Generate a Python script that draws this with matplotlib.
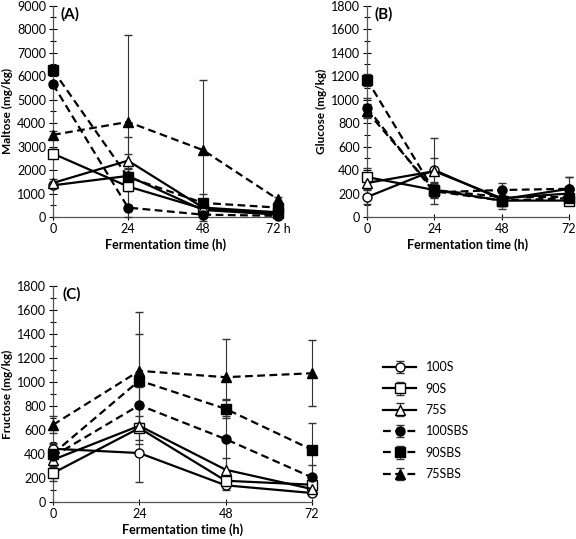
import matplotlib
matplotlib.use("Agg")
import matplotlib.pyplot as plt
from matplotlib.ticker import MultipleLocator
import numpy as np

plt.rcParams['font.family'] = ['Lato', 'DejaVu Sans']

time = [0, 24, 48, 72]
series = ["100S", "90S", "75S", "100SBS", "90SBS", "75SBS"]

# Maltose (A)
maltose = {
    "100S":   [1350, 1750, 300, 100],
    "90S":    [2700, 1300, 350, 150],
    "75S":    [1450, 2400, 400, 200],
    "100SBS": [5650, 400, 100, 50],
    "90SBS":  [6250, 1700, 600, 400],
    "75SBS":  [3500, 4050, 2850, 750],
}
maltose_sd = {
    "100S":   [100, 300, 100, 50],
    "90S":    [200, 200, 100, 50],
    "75S":    [150, 300, 200, 100],
    "100SBS": [100, 100, 50, 50],
    "90SBS":  [100, 1700, 400, 100],
    "75SBS":  [150, 3700, 3000, 100],
}

# Glucose (B)
glucose = {
    "100S":   [170, 400, 150, 240],
    "90S":    [340, 230, 140, 140],
    "75S":    [290, 390, 160, 200],
    "100SBS": [930, 210, 230, 240],
    "90SBS":  [1170, 220, 140, 160],
    "75SBS":  [900, 230, 170, 170],
}
glucose_sd = {
    "100S":   [60, 100, 60, 100],
    "90S":    [80, 60, 40, 30],
    "75S":    [50, 280, 60, 40],
    "100SBS": [80, 40, 60, 105],
    "90SBS":  [50, 60, 70, 30],
    "75SBS":  [60, 40, 40, 30],
}

# Fructose (C)
fructose = {
    "100S":   [444, 408, 139, 75],
    "90S":    [241, 616, 177, 144],
    "75S":    [352, 635, 269, 108],
    "100SBS": [380, 807, 524, 205],
    "90SBS":  [402, 1012, 776, 435],
    "75SBS":  [643, 1093, 1040, 1073],
}
fructose_sd = {
    "100S":   [50, 240, 40, 20],
    "90S":    [70, 100, 60, 30],
    "75S":    [60, 150, 100, 30],
    "100SBS": [80, 150, 330, 100],
    "90SBS":  [80, 385, 80, 220],
    "75SBS":  [70, 490, 320, 275],
}

styles = {
    "100S":   dict(marker='o', mfc='white', ls='-'),
    "90S":    dict(marker='s', mfc='white', ls='-'),
    "75S":    dict(marker='^', mfc='white', ls='-'),
    "100SBS": dict(marker='o', mfc='black', ls=(0, (3.5, 2))),
    "90SBS":  dict(marker='s', mfc='black', ls=(0, (3.5, 2))),
    "75SBS":  dict(marker='^', mfc='black', ls=(0, (3.5, 2))),
}

fig = plt.figure(figsize=(5.76, 5.39), dpi=100)
W, H = 576, 539

def make_ax(x0, x1, ytop, ybot):
    return fig.add_axes([x0 / W, 1 - ybot / H, (x1 - x0) / W, (ybot - ytop) / H])

axA = make_ax(53, 278, 5.7, 217)
axB = make_ax(367, 569, 5.7, 217)
axC = make_ax(53, 312, 286, 502)

def draw(ax, data, sd, ymax, major, minor, ylabel, letter, xticklabels):
    for s in series:
        st = styles[s]
        ax.errorbar(time, data[s], yerr=sd[s], color='black', lw=1.6,
                    ls=st['ls'], marker=st['marker'], mfc=st['mfc'], mec='black',
                    mew=1.0, ms=6.5, ecolor='#333333', elinewidth=0.8, capsize=3,
                    capthick=0.8, label=s, clip_on=False, zorder=3)
    ax.set_xlim(0, 72)
    ax.set_ylim(0, ymax)
    ax.set_xticks(time)
    ax.set_xticklabels(xticklabels, fontsize=9)
    ax.yaxis.set_major_locator(MultipleLocator(major))
    ax.yaxis.set_minor_locator(MultipleLocator(minor))
    ax.tick_params(axis='y', which='major', direction='inout', length=6, width=0.8,
                   labelsize=9, pad=2)
    ax.tick_params(axis='y', which='minor', direction='inout', length=5, width=0.8)
    ax.tick_params(axis='x', which='major', direction='inout', length=5, width=0.8,
                   labelsize=9, pad=1.5)
    for sp in ['top', 'right']:
        ax.spines[sp].set_visible(False)
    for sp in ['left', 'bottom']:
        ax.spines[sp].set_color('#555555')
        ax.spines[sp].set_linewidth(0.9)
    ax.set_ylabel(ylabel, fontsize=8.5, fontweight='bold', labelpad=3)
    ax.set_xlabel("Fermentation time (h)", fontsize=9, fontweight='bold', labelpad=3)
    ax.text(0.035, 0.995, letter, transform=ax.transAxes, fontsize=11,
            fontweight='bold', va='top', ha='left')

draw(axA, maltose, maltose_sd, 9000, 1000, 500, "Maltose (mg/kg)", "(A)",
     ["0", "24", "48", "72 h"])
draw(axB, glucose, glucose_sd, 1800, 200, 100, "Glucose (mg/kg)", "(B)",
     ["0", "24", "48", "72"])
draw(axC, fructose, fructose_sd, 1800, 200, 100, "Fructose (mg/kg)", "(C)",
     ["0", "24", "48", "72"])

handles, labels = axC.get_legend_handles_labels()
fig.legend(handles, labels, loc='upper left', bbox_to_anchor=(372 / W, 1 - 350 / H),
           frameon=False, fontsize=9, handlelength=2.6, labelspacing=0.75,
           handletextpad=0.8)

fig.savefig("out.png", dpi=100)
